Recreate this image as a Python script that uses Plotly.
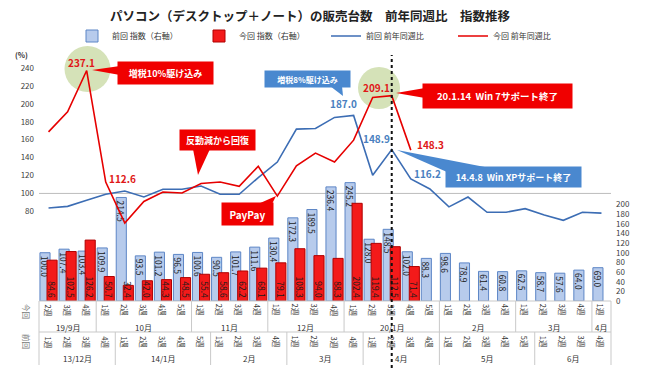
import plotly.graph_objects as go

# ---------------- data ----------------
weeks_now = ['2週','3週','4週','1週','2週','3週','4週','5週','1週','2週','3週','4週',
             '1週','2週','3週','4週','1週','2週','3週','4週','5週','1週','2週','3週','4週',
             '1週','2週','3週','4週','1週']
months_now = ['19/9月','10月','11月','12月','20/1月','2月','3月','4月']
months_now_len = [3, 5, 4, 4, 5, 4, 4, 1]

weeks_prev = ['1週','2週','3週','4週','1週','2週','3週','4週','5週','1週','2週','3週','4週',
              '1週','2週','3週','4週','1週','2週','3週','4週','1週','2週','3週','4週','5週',
              '1週','2週','3週','4週']
months_prev = ['13/12月','14/1月','2月','3月','4月','5月','6月']
months_prev_len = [4, 5, 4, 4, 4, 5, 4]

prev_index = [100.0, 107.4, 103.4, 109.9, 214.5, 93.5, 101.2, 96.5, 100.6, 90.5,
              101.7, 111.6, 130.4, 172.3, 189.5, 236.4, 245.2, 128.0, 148.5, 102.0,
              88.3, 98.6, 78.9, 61.4, 60.8, 62.5, 58.7, 57.6, 64.0, 69.0]
now_index = [84.6, 102.5, 126.2, 50.7, 32.4, 42.0, 44.3, 48.5, 55.4, 58.6,
             62.2, 68.1, 79.1, 108.3, 94.0, 88.3, 202.4, 119.4, 112.5, 71.4]

prev_yoy = [83.7, 85.6, 92.3, 99.0, 102.7, 96.0, 104.6, 104.6, 108.3, 99.0,
            99.0, 117.7, 135.0, 171.7, 172.5, 184.8, 187.0, 120.3, 148.9, 116.2,
            105.0, 85.0, 96.0, 79.0, 79.0, 83.0, 76.0, 70.0, 79.0, 78.0]
now_yoy = [168.7, 191.0, 237.1, 112.6, 67.0, 91.0, 101.6, 100.5, 111.0, 112.8,
           108.0, 130.3, 97.0, 130.7, 145.0, 135.0, 159.4, 207.0, 209.1, 148.3]

left_ticks = [80, 100, 120, 140, 160, 180, 200, 220, 240]
right_ticks = [0, 20, 40, 60, 80, 100, 120, 140, 160, 180, 200]

# ---------------- layout constants ----------------
W, H = 650, 372
ML, MR, MT, MB = 39, 39, 50, 71
PW, PH = W - ML - MR, H - MT - MB
N = len(prev_index)
LRANGE = [-20, 260]
RRANGE = [0, 520]
FONT = "Noto Sans CJK JP, Noto Sans, sans-serif"
BLUE_L = '#3c6db4'
RED_L = '#e60000'
BOX_RED = '#f00000'
BOX_BLUE = '#4a88cf'

def px_x(px):  # pixel -> paper x
    return (px - ML) / PW

def px_y(py):  # pixel -> paper y
    return (H - MB - py) / PH

xs = list(range(N))

fig = go.Figure()
fig.add_trace(go.Bar(
    x=xs, y=prev_index, name='前回 指数（右軸）', yaxis='y',
    width=0.53, offset=-0.45,
    marker=dict(color='#b7cbec', line=dict(color='#5d86c6', width=1)),
    text=[f'{v:.1f}' for v in prev_index], textposition='inside',
    insidetextanchor='end', textangle=90, constraintext='none',
    insidetextfont=dict(size=8.5, color='#1a1a1a', family=FONT),
    hoverinfo='skip'))
fig.add_trace(go.Bar(
    x=xs[:len(now_index)], y=now_index, name='今回 指数（右軸）', yaxis='y',
    width=0.53, offset=-0.08,
    marker=dict(color='#f31a1a', line=dict(color='#b00000', width=1)),
    text=[f'{v:.1f}' for v in now_index], textposition='inside',
    insidetextanchor='start', textangle=90, constraintext='none',
    insidetextfont=dict(size=8.5, color='#1a1a1a', family=FONT),
    hoverinfo='skip'))
fig.add_trace(go.Scatter(
    x=xs, y=prev_yoy, name='前回 前年同週比', yaxis='y2', mode='lines',
    line=dict(color=BLUE_L, width=1.6), hoverinfo='skip'))
fig.add_trace(go.Scatter(
    x=xs[:len(now_yoy)], y=now_yoy, name='今回 前年同週比', yaxis='y2', mode='lines',
    line=dict(color=RED_L, width=1.6), hoverinfo='skip'))

shapes = []
annotations = []

def ann(**kw):
    kw.setdefault('showarrow', False)
    kw.setdefault('xanchor', 'center')
    kw.setdefault('yanchor', 'middle')
    annotations.append(kw)

# 100% reference line
shapes.append(dict(type='line', xref='paper', yref='y2', x0=0, x1=1, y0=100, y1=100,
                   line=dict(color='#bdbdbd', width=1), layer='below'))
# green highlight circles
for cx, cy, r in [(87.5, 69, 23), (379, 88, 21)]:
    shapes.append(dict(type='circle', xref='paper', yref='paper',
                       x0=px_x(cx - r), x1=px_x(cx + r), y0=px_y(cy + r), y1=px_y(cy - r),
                       fillcolor='#d5e2b8', line=dict(width=0), layer='below'))

# category axis lines
GRID = '#c9c9c9'
y_row = px_y(332)
y_bot = px_y(365)
shapes.append(dict(type='line', xref='paper', yref='paper', x0=0, x1=1, y0=0, y1=0,
                   line=dict(color=GRID, width=1)))
shapes.append(dict(type='line', xref='paper', yref='paper', x0=0, x1=1, y0=y_row, y1=y_row,
                   line=dict(color=GRID, width=1)))
b = 0
bounds_now = [0]
for n in months_now_len:
    b += n
    bounds_now.append(b)
b = 0
bounds_prev = [0]
for n in months_prev_len:
    b += n
    bounds_prev.append(b)
for bb in bounds_now:
    shapes.append(dict(type='line', xref='paper', yref='paper', x0=bb / N, x1=bb / N,
                       y0=0, y1=y_row, line=dict(color=GRID, width=1)))
for bb in bounds_prev:
    shapes.append(dict(type='line', xref='paper', yref='paper', x0=bb / N, x1=bb / N,
                       y0=y_row, y1=y_bot, line=dict(color=GRID, width=1)))

# week labels
for i, w in enumerate(weeks_now):
    ann(xref='x', yref='paper', x=i, y=px_y(310), text=w, textangle=90,
        font=dict(size=7.5, color='#333', family=FONT))
for i, w in enumerate(weeks_prev):
    ann(xref='x', yref='paper', x=i, y=px_y(342), text=w, textangle=90,
        font=dict(size=7.5, color='#333', family=FONT))
for k, m in enumerate(months_now):
    c = (bounds_now[k] + bounds_now[k + 1]) / 2 - 0.5
    ann(xref='x', yref='paper', x=c, y=px_y(327), text=m,
        font=dict(size=8, color='#333', family=FONT))
for k, m in enumerate(months_prev):
    c = (bounds_prev[k] + bounds_prev[k + 1]) / 2 - 0.5
    ann(xref='x', yref='paper', x=c, y=px_y(358), text=m,
        font=dict(size=8, color='#333', family=FONT))
ann(xref='paper', yref='paper', x=px_x(27), y=px_y(311), text='今回', textangle=90,
    font=dict(size=7.5, color='#777', family=FONT))
ann(xref='paper', yref='paper', x=px_x(27), y=px_y(341), text='前回', textangle=90,
    font=dict(size=7.5, color='#777', family=FONT))
ann(xref='paper', yref='paper', x=px_x(21), y=px_y(55), text='<b>(%)</b>',
    font=dict(size=7.5, color='#333', family=FONT))

# dotted marker line at Win7 support end
xd = (18 + 0.5) / N
shapes.append(dict(type='line', xref='paper', yref='paper', x0=xd, x1=xd,
                   y0=px_y(368), y1=px_y(55), line=dict(color='#111', width=2, dash='dot')))

# value labels on lines
def vlabel(i, v, xs_, ys_, color):
    ann(xref='x', yref='y2', x=i, y=v, text=f'<b>{v:.1f}</b>', xshift=xs_, yshift=ys_,
        font=dict(size=10, color=color, family=FONT))

vlabel(2, now_yoy[2], -5, 8, '#e01818')
vlabel(3, now_yoy[3], 17, 4, '#e01818')
vlabel(18, now_yoy[18], -15, 8, '#e01818')
vlabel(19, now_yoy[19], 20, 6, '#e01818')
vlabel(16, prev_yoy[16], -10, 12, '#4a7fc0')
vlabel(18, prev_yoy[18], -15, 11, '#4a7fc0')
vlabel(19, prev_yoy[19], 17, 5, '#4a7fc0')

# callout boxes
def callout(x0, y0, x1, y1, text, color, size, tri):
    ann(xref='paper', yref='paper', x=px_x((x0 + x1) / 2), y=px_y((y0 + y1) / 2),
        text=f'<b>{text}</b>', bgcolor=color, width=x1 - x0, height=y1 - y0,
        borderpad=0, align='center', valign='middle',
        font=dict(size=size, color='white', family=FONT))
    path = 'M ' + ' L '.join(f'{px_x(a)} {px_y(c)}' for a, c in tri) + ' Z'
    shapes.append(dict(type='path', xref='paper', yref='paper', path=path,
                       fillcolor=color, line=dict(width=0)))

callout(118, 62, 213, 84, '増税10%駆け込み', BOX_RED, 9,
        [(92, 70), (120, 66), (120, 75)])
callout(180, 130, 255, 150, '反動減から回復', BOX_RED, 9,
        [(198, 175), (193, 149), (210, 149)])
callout(222, 203, 273, 225, 'PayPay', BOX_RED, 10,
        [(276, 196), (258, 204), (272, 204)])
callout(265, 71, 350, 87, '増税8%駆け込み', BOX_BLUE, 8,
        [(343, 96), (330, 86), (342, 86)])
callout(423, 84, 572, 108, '20.1.14  Win 7サポート終了', BOX_RED, 9.5,
        [(396, 93), (425, 88), (425, 98)])
callout(446, 167, 581, 187, '14.4.8  Win XPサポート終了', BOX_BLUE, 9,
        [(397, 150), (490, 168), (447, 172)])

fig.update_layout(
    width=W, height=H, margin=dict(l=ML, r=MR, t=MT, b=MB),
    paper_bgcolor='white', plot_bgcolor='rgba(0,0,0,0)',
    font=dict(family=FONT, color='#333'),
    barmode='overlay', showlegend=True,
    title=dict(text='<b>パソコン（デスクトップ＋ノート）の販売台数　前年同週比　指数推移</b>',
               x=310 / W, xanchor='center', y=1 - 17 / H, yanchor='middle',
               font=dict(size=12.5, color='#222', family=FONT)),
    legend=dict(orientation='h', x=px_x(72), xanchor='left', y=px_y(36), yanchor='middle',
                font=dict(size=8, color='#333', family=FONT), entrywidth=82,
                entrywidthmode='pixels', bgcolor='rgba(0,0,0,0)', itemclick=False,
                traceorder='normal', tracegroupgap=0),
    xaxis=dict(range=[-0.5, N - 0.5], showticklabels=False, showgrid=False, zeroline=False,
               showline=False, ticks=''),
    yaxis=dict(range=RRANGE, side='right', tickvals=right_ticks, showgrid=False, zeroline=False,
               showline=False, ticks='', ticklabelstandoff=4,
               tickfont=dict(size=8, color='#404040', family=FONT)),
    yaxis2=dict(range=LRANGE, side='left', overlaying='y', tickvals=left_ticks, showgrid=False,
                zeroline=False, showline=False, ticks='', ticklabelstandoff=4,
                tickfont=dict(size=8, color='#404040', family=FONT)),
    shapes=shapes, annotations=annotations,
)

fig.write_html('out.html', config={'displayModeBar': False},
               post_script="document.body.style.margin='0px';")
